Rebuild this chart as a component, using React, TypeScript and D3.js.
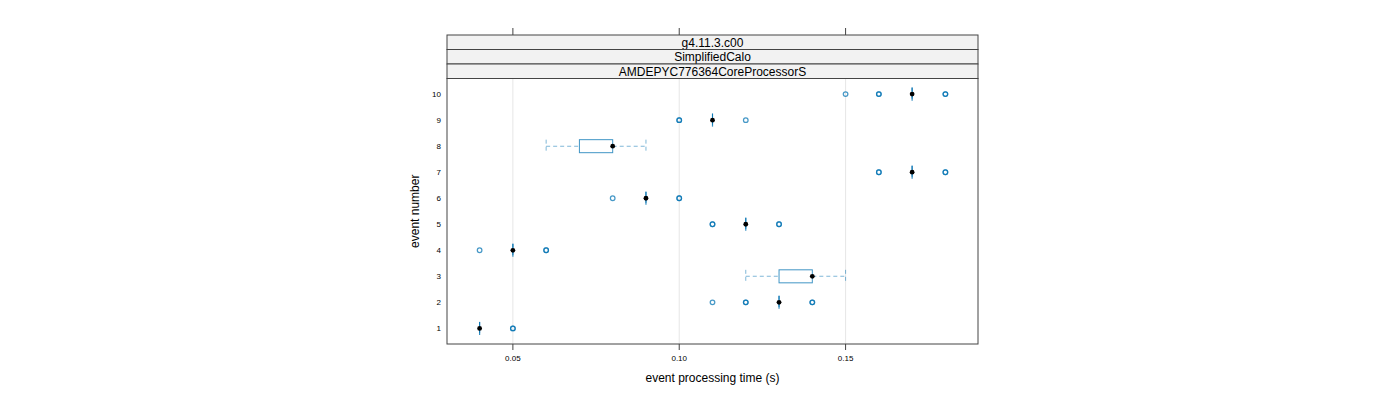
import * as d3 from "d3";

// event numbers (y categories)
const events = ["1", "2", "3", "4", "5", "6", "7", "8", "9", "10"];

// box statistics per event (seconds)
const whiskerLow = [0.04, 0.13, 0.12, 0.05, 0.12, 0.09, 0.17, 0.06, 0.11, 0.17];
const quart1 = [0.04, 0.13, 0.13, 0.05, 0.12, 0.09, 0.17, 0.07, 0.11, 0.17];
const medians = [0.04, 0.13, 0.14, 0.05, 0.12, 0.09, 0.17, 0.08, 0.11, 0.17];
const quart3 = [0.04, 0.13, 0.14, 0.05, 0.12, 0.09, 0.17, 0.08, 0.11, 0.17];
const whiskerHigh = [0.04, 0.13, 0.15, 0.05, 0.12, 0.09, 0.17, 0.09, 0.11, 0.17];

// outliers per event; repeated values overlap and show darker
const outliers: number[][] = [
  [0.05, 0.05],
  [0.11, 0.12, 0.12, 0.14, 0.14],
  [],
  [0.04, 0.06, 0.06],
  [0.11, 0.11, 0.13, 0.13],
  [0.08, 0.1, 0.1],
  [0.16, 0.16, 0.18, 0.18],
  [],
  [0.1, 0.1, 0.12],
  [0.15, 0.16, 0.16, 0.18, 0.18],
];

const xTicks = [0.05, 0.1, 0.15];
const strips = ["g4.11.3.c00", "SimplifiedCalo", "AMDEPYC776364CoreProcessorS"];

const W = 1400;
const H = 400;
const panel = { left: 447, right: 978, top: 78.5, bottom: 344 };
const stripTop = 35;
const stripH = (panel.top - stripTop) / strips.length;
const blue = "#0072B2";
const font = "'Liberation Sans', Arial, sans-serif";

export default function App() {
  const x = d3.scaleLinear().domain([0.0302, 0.1898]).range([panel.left, panel.right]);
  const y = d3.scaleLinear().domain([0.4, 10.6]).range([panel.bottom, panel.top]);
  const halfBox = (y(0) - y(0.5)) / 2;
  const fmt = d3.format(".2f");

  return (
    <svg width={W} height={H} style={{ position: "absolute", left: 0, top: 0 }} fontFamily={font}>
      {/* grid */}
      {xTicks.map((t) => (
        <line key={"g" + t} x1={x(t)} x2={x(t)} y1={panel.top} y2={panel.bottom} stroke="#e6e6e6" strokeWidth={1} />
      ))}

      {/* boxes */}
      {events.map((e, i) => {
        const cy = y(+e);
        return (
          <g key={"b" + e}>
            <line x1={x(whiskerLow[i])} x2={x(quart1[i])} y1={cy} y2={cy} stroke={blue} strokeOpacity={0.5} strokeWidth={1.1} strokeDasharray="4,3" />
            <line x1={x(quart3[i])} x2={x(whiskerHigh[i])} y1={cy} y2={cy} stroke={blue} strokeOpacity={0.5} strokeWidth={1.1} strokeDasharray="4,3" />
            <line x1={x(whiskerLow[i])} x2={x(whiskerLow[i])} y1={cy - halfBox} y2={cy + halfBox} stroke={blue} strokeOpacity={0.5} strokeDasharray="4,3" />
            <line x1={x(whiskerHigh[i])} x2={x(whiskerHigh[i])} y1={cy - halfBox} y2={cy + halfBox} stroke={blue} strokeOpacity={0.5} strokeDasharray="4,3" />
            <rect x={x(quart1[i])} y={cy - halfBox} width={x(quart3[i]) - x(quart1[i])} height={halfBox * 2} fill="none" stroke={blue} strokeOpacity={0.75} strokeWidth={1} />
            {quart1[i] === quart3[i] && (
              <line x1={x(quart1[i])} x2={x(quart1[i])} y1={cy - halfBox} y2={cy + halfBox} stroke={blue} strokeOpacity={0.8} strokeWidth={1.2} />
            )}
            <circle cx={x(medians[i])} cy={cy} r={2.4} fill="#000" />
            {outliers[i].map((v, j) => (
              <circle key={j} cx={x(v)} cy={cy} r={2.3} fill="none" stroke={blue} strokeOpacity={0.72} strokeWidth={1.25} />
            ))}
          </g>
        );
      })}

      {/* panel border */}
      <rect x={panel.left} y={panel.top} width={panel.right - panel.left} height={panel.bottom - panel.top} fill="none" stroke="#444" strokeWidth={1} />

      {/* strips */}
      {strips.map((s, k) => (
        <g key={"s" + k}>
          <rect x={panel.left} y={stripTop + k * stripH} width={panel.right - panel.left} height={stripH} fill="#f2f2f2" stroke="#444" strokeWidth={1} />
          <text x={(panel.left + panel.right) / 2} y={stripTop + k * stripH + stripH / 2} dy="0.36em" textAnchor="middle" fontSize={12} fill="#000">
            {s}
          </text>
        </g>
      ))}

      {/* x axis ticks top and bottom */}
      {xTicks.map((t) => (
        <g key={"t" + t}>
          <line x1={x(t)} x2={x(t)} y1={stripTop - 7} y2={stripTop} stroke="#444" />
          <line x1={x(t)} x2={x(t)} y1={panel.bottom} y2={panel.bottom + 6} stroke="#444" />
          <text x={x(t)} y={panel.bottom + 14} dy="0.35em" textAnchor="middle" fontSize={8} fill="#000">
            {fmt(t)}
          </text>
        </g>
      ))}

      {/* y axis labels */}
      {events.map((e) => (
        <text key={"y" + e} x={441} y={y(+e)} dy="0.35em" textAnchor="end" fontSize={8} fill="#000">
          {e}
        </text>
      ))}

      <text x={(panel.left + panel.right) / 2} y={378} dy="0.35em" textAnchor="middle" fontSize={12} fill="#000">
        event processing time (s)
      </text>
      <text transform={`translate(415,${(panel.top + panel.bottom) / 2}) rotate(-90)`} dy="0.35em" textAnchor="middle" fontSize={12} fill="#000">
        event number
      </text>
    </svg>
  );
}
